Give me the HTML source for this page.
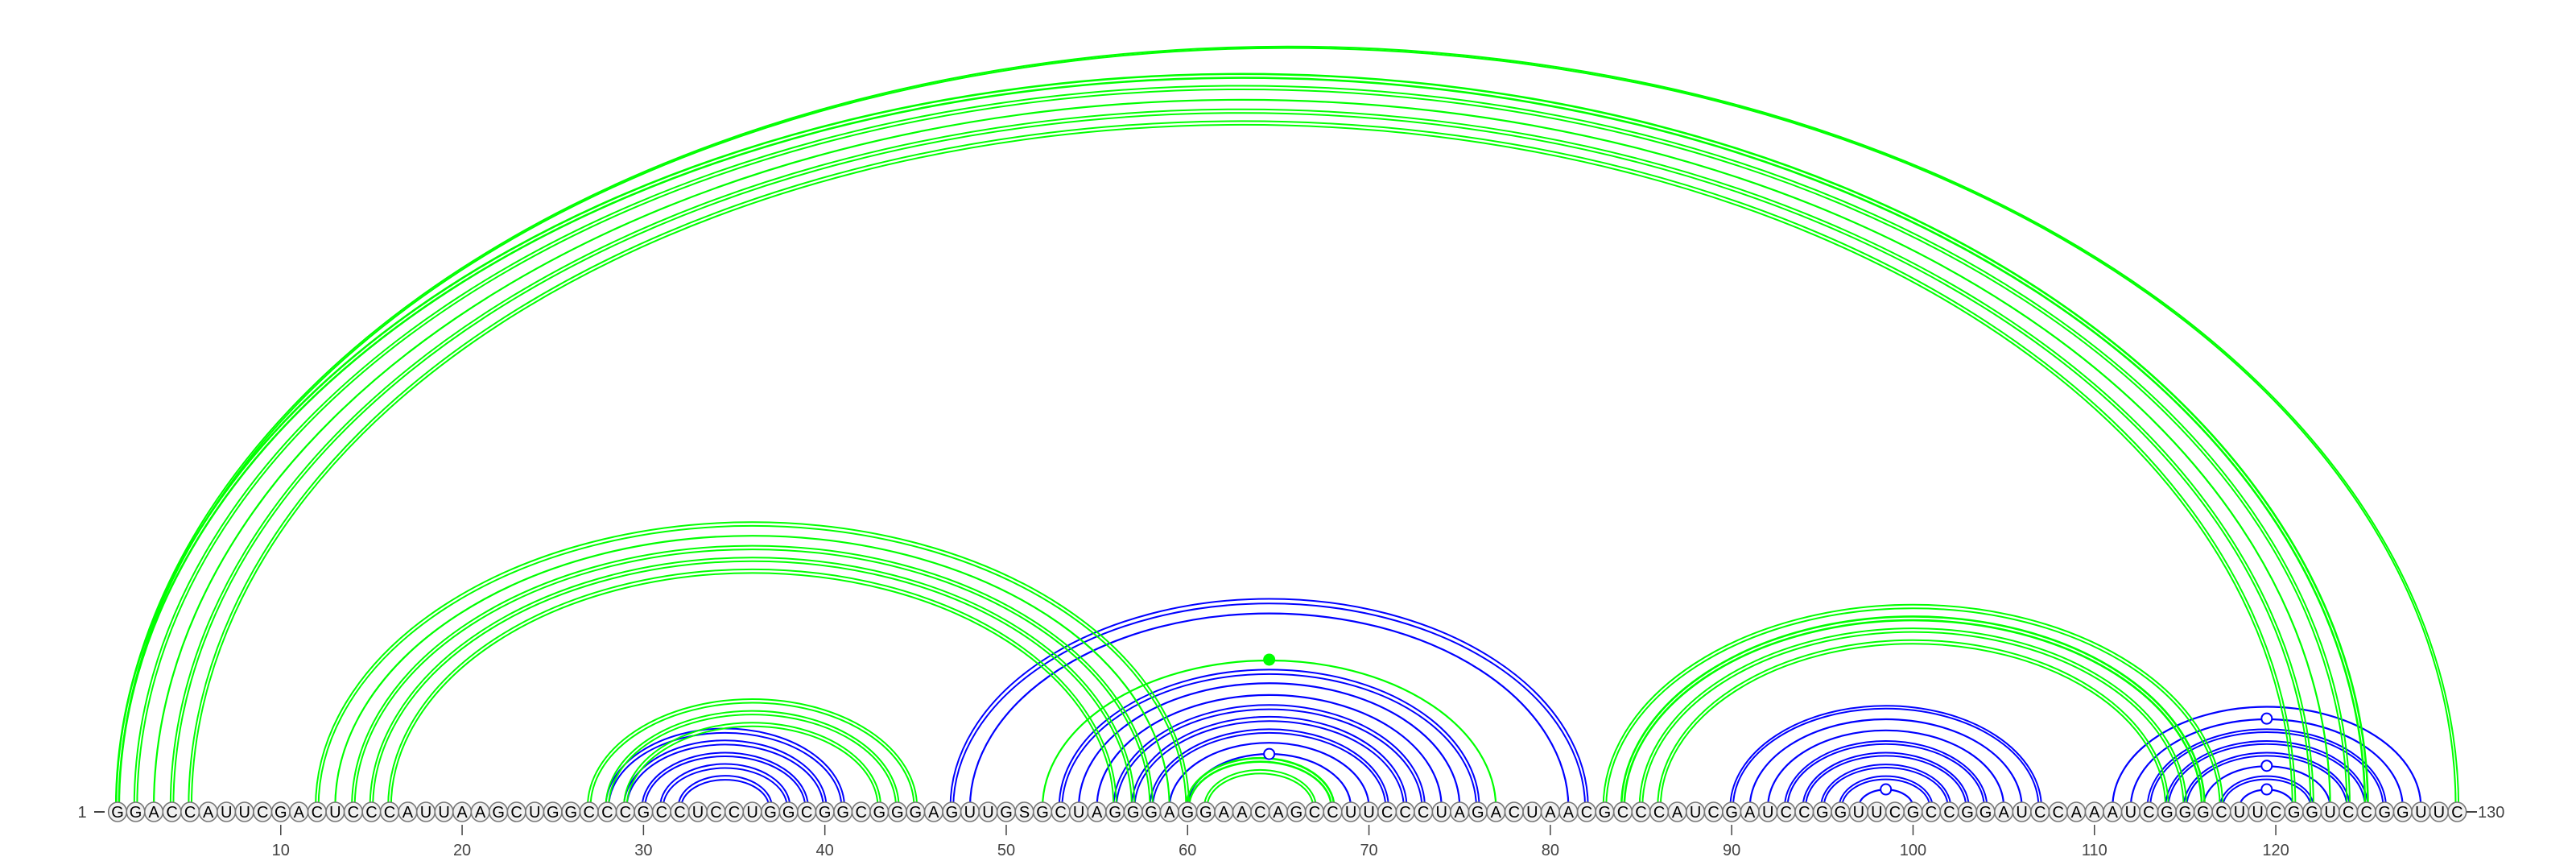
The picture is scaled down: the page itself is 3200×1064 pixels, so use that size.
<!DOCTYPE html>
<html>
<head>
<meta charset="utf-8">
<style>
html,body{margin:0;padding:0;background:#fff;}
svg{display:block;}
</style>
</head>
<body>
<svg id="chart" width="3200" height="1064" viewBox="0 0 3200 1064" xmlns="http://www.w3.org/2000/svg">
  <g id="arcs-blue"></g>
  <g id="arcs-green"></g>
  <g id="dots"></g>
  <g id="bases"></g>
  <g id="ticks"></g>
  <text x="102" y="1015" font-family="Liberation Sans, sans-serif" font-size="20" fill="#444" text-anchor="middle">1</text>
  <line x1="117" y1="1008" x2="130" y2="1008" stroke="#444" stroke-width="2"/>
  <line x1="3064" y1="1008" x2="3077" y2="1008" stroke="#444" stroke-width="2"/>
  <text x="3078" y="1015" font-family="Liberation Sans, sans-serif" font-size="20" fill="#444">130</text>
</svg>
<script>
const sequence = "GGACCAUUCGACUCCCAUUAAGCUGGCCCGCCUCCUGGCGGCGGGAGUUGSGCUAGGGAGGAACAGCCUUCCCUAGACUAACGCCCAUCGAUCCGGUUCGCCGGAUCCAAAUCGGGCUUCGGUCCGGUUC";
const tickPositions = [10,20,30,40,50,60,70,80,90,100,110,120];
const greenStart = [1,1,2,3,4,5,12,13,14,15,16,27,28,29,52,60,61,83,84,85,86];
const greenEnd   = [130,125,124,123,122,121,60,59,58,57,56,45,44,43,77,68,67,117,116,115,114];
const greenStyle = ["d","t","d","s","d","d","d","s","d","d","d","d","d","d","s","t","d","d","t","d","d"];
const blueStart = [28,29,30,31,32,47,48,53,54,55,56,57,58,59,60,90,91,92,93,94,95,96,97,111,112,113,114,115,116,117,118];
const blueEnd   = [41,40,39,38,37,82,81,76,75,74,73,72,71,70,69,107,106,105,104,103,102,101,100,128,127,126,125,124,123,122,121];
const blueStyle = ["d","d","d","d","d","d","s","d","s","s","d","d","d","s","s","d","s","s","d","d","d","d","s","s","s","d","d","d","s","d","s"];
const hollowDotStart = [60,97,112,116,118];
const hollowDotEnd   = [69,100,127,123,121];
const filledDotStart = [52];
const filledDotEnd   = [77];

const NS = "http://www.w3.org/2000/svg";
const X0 = 146, DX = 22.53, BASE_Y = 1002, RATIO = 0.65, CY = 1008;
function xOf(i){ return X0 + (i-1)*DX; }
function arcPath(i,j,o){
  const x1 = xOf(i)-o, x2 = xOf(j)+o;
  const rx = (x2-x1)/2, ry = rx*RATIO + o*0.6;
  return `M${x1.toFixed(2)} ${BASE_Y} A${rx.toFixed(2)} ${ry.toFixed(2)} 0 0 1 ${x2.toFixed(2)} ${BASE_Y}`;
}
function drawArcs(gid, starts, ends, styles, color, name){
  const g = document.getElementById(gid);
  for(let k=0;k<starts.length;k++){
    const st = styles[k];
    const offs = st==="s" ? [0] : [-1.8,1.8];
    const sw = st==="t" ? 2.6 : (st==="s" ? 2.2 : 2.0);
    for(const o of offs){
      const p = document.createElementNS(NS,"path");
      p.setAttribute("d", arcPath(starts[k], ends[k], o));
      p.setAttribute("fill","none");
      p.setAttribute("stroke",color);
      p.setAttribute("stroke-width",sw);
      
      
      g.appendChild(p);
    }
  }
}
drawArcs("arcs-blue", blueStart, blueEnd, blueStyle, "#0000ff", "blue-base-pair-arc");
drawArcs("arcs-green", greenStart, greenEnd, greenStyle, "#00ff00", "green-base-pair-arc");

const dg = document.getElementById("dots");
for(let k=0;k<hollowDotStart.length;k++){
  const i = hollowDotStart[k], j = hollowDotEnd[k];
  const rx = (xOf(j)-xOf(i))/2;
  const c = document.createElementNS(NS,"circle");
  c.setAttribute("cx", (xOf(i)+rx).toFixed(2));
  c.setAttribute("cy", (BASE_Y - rx*RATIO).toFixed(2));
  c.setAttribute("r", 6.5);
  c.setAttribute("fill","#fff");
  c.setAttribute("stroke","#0000ff");
  c.setAttribute("stroke-width",2);
  
  
  dg.appendChild(c);
}
for(let k=0;k<filledDotStart.length;k++){
  const i = filledDotStart[k], j = filledDotEnd[k];
  const rx = (xOf(j)-xOf(i))/2;
  const c = document.createElementNS(NS,"circle");
  c.setAttribute("cx", (xOf(i)+rx).toFixed(2));
  c.setAttribute("cy", (BASE_Y - rx*RATIO).toFixed(2));
  c.setAttribute("r", 7.5);
  c.setAttribute("fill","#00ff00");
  
  
  dg.appendChild(c);
}

const bg = document.getElementById("bases");
for(let i=1;i<=sequence.length;i++){
  const x = xOf(i);
  const c = document.createElementNS(NS,"ellipse");
  c.setAttribute("cx", x.toFixed(2));
  c.setAttribute("cy", CY);
  c.setAttribute("rx", 11.3);
  c.setAttribute("ry", 12);
  c.setAttribute("fill","#f0f0f0");
  c.setAttribute("stroke","#777");
  c.setAttribute("stroke-width",1.6);
  
  
  bg.appendChild(c);
  const t = document.createElementNS(NS,"text");
  t.setAttribute("x", x.toFixed(2));
  t.setAttribute("y", CY+7);
  t.setAttribute("text-anchor","middle");
  t.setAttribute("font-family","Liberation Sans, sans-serif");
  t.setAttribute("font-size","20");
  t.setAttribute("fill","#000");
  t.textContent = sequence[i-1];
  
  
  bg.appendChild(t);
}

const tg = document.getElementById("ticks");
for(const p of tickPositions){
  const x = xOf(p);
  const l = document.createElementNS(NS,"line");
  l.setAttribute("x1", x.toFixed(2)); l.setAttribute("x2", x.toFixed(2));
  l.setAttribute("y1", 1024); l.setAttribute("y2", 1037);
  l.setAttribute("stroke","#444"); l.setAttribute("stroke-width",1.5);
  
  
  tg.appendChild(l);
  const t = document.createElementNS(NS,"text");
  t.setAttribute("x", x.toFixed(2));
  t.setAttribute("y", 1062);
  t.setAttribute("text-anchor","middle");
  t.setAttribute("font-family","Liberation Sans, sans-serif");
  t.setAttribute("font-size","20");
  t.setAttribute("fill","#444");
  t.textContent = String(p);
  
  
  tg.appendChild(t);
}
</script>
</body>
</html>
